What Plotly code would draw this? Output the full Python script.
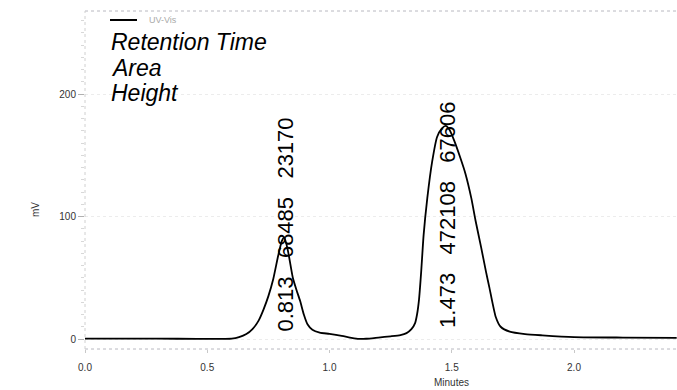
import plotly.graph_objects as go

# ---- data ----
time_min = [0.00, 0.30, 0.60, 0.63, 0.66, 0.685, 0.71, 0.73, 0.75, 0.77, 0.79, 0.805, 0.815,
            0.83, 0.85, 0.865, 0.88, 0.895, 0.91, 0.93, 0.96, 1.00, 1.05, 1.09, 1.12, 1.15,
            1.20, 1.25, 1.29, 1.315, 1.335, 1.35, 1.358, 1.366, 1.375, 1.385, 1.40, 1.42,
            1.44, 1.46, 1.475, 1.49, 1.51, 1.535, 1.556, 1.58, 1.597, 1.62, 1.64, 1.654,
            1.68, 1.70, 1.737, 1.80, 1.87, 2.00, 2.20, 2.42]
signal_mv = [0.3, 0.3, 0.3, 1.5, 4, 8, 15, 24, 35, 49, 68, 80, 83,
             72, 50, 40, 31, 20, 12, 7.5, 5.2, 4.2, 2.6, 1.0, 0.1, 0.2,
             1.2, 2.2, 3.2, 4.8, 8, 13, 20, 32, 55, 85, 115, 145,
             165, 172, 174, 171, 162, 148, 135, 115, 97, 75, 55, 42,
             18, 10, 6, 4, 3, 1.6, 1.2, 1.0]

peak_rt = ["0.813", "1.473"]
peak_area = ["68485", "472108"]
peak_height = ["23170", "67606"]
peak_label_x = [0.818, 1.483]
peak_label_y = [93.5, 101]

x_ticks = [0.0, 0.5, 1.0, 1.5, 2.0]
y_ticks = [0, 100, 200]

series_name = "UV-Vis"
legend_lines = ["Retention Time", "Area", "Height"]

# ---- geometry helpers (layout only) ----
W, H = 677, 390
L, R, T, B = 85, 0, 11, 41
PW, PH = W - L - R, H - T - B


def px(x):
    return (x - L) / PW


def py(y):
    return (H - B - y) / PH


FONT = "Liberation Sans, Arial, sans-serif"

fig = go.Figure()
fig.add_trace(go.Scatter(
    x=time_min, y=signal_mv, mode="lines",
    line=dict(color="black", width=1.8, shape="spline", smoothing=0.6),
    name=series_name, showlegend=False, hoverinfo="skip"))

annotations = []
for xv, yv, rt, ar, ht in zip(peak_label_x, peak_label_y, peak_rt, peak_area, peak_height):
    annotations.append(dict(
        x=xv, y=yv, xref="x", yref="y", text=f"{rt}   {ar}   {ht}",
        textangle=-90, showarrow=False, xanchor="center", yanchor="middle",
        font=dict(family=FONT, size=22, color="black")))

# legend-like header
annotations.append(dict(x=px(147), y=py(20), xref="paper", yref="paper", text=series_name,
                        showarrow=False, xanchor="left", yanchor="middle",
                        font=dict(family=FONT, size=9, color="#aaaaaa")))
for yy, txt in zip([42, 68, 93], legend_lines):
    annotations.append(dict(x=px(109), y=py(yy), xref="paper", yref="paper",
                            text=f"<i>{txt}</i>", showarrow=False, xanchor="left",
                            yanchor="middle", font=dict(family=FONT, size=23, color="black")))

annotations.append(dict(x=1.5, y=py(382), xref="x", yref="paper", text="Minutes",
                        showarrow=False, xanchor="center", yanchor="middle",
                        font=dict(family=FONT, size=10, color="#333333")))
annotations.append(dict(x=px(35), y=py(210), xref="paper", yref="paper", text="mV",
                        textangle=-90, showarrow=False, xanchor="center", yanchor="middle",
                        font=dict(family=FONT, size=10, color="#333333")))

shapes = [
    dict(type="line", xref="paper", yref="paper", x0=px(110), x1=px(137), y0=py(20), y1=py(20),
         line=dict(color="black", width=2)),
    dict(type="line", xref="paper", yref="paper", x0=0, x1=1, y0=1, y1=1,
         line=dict(color="#b8b8c0", width=1, dash="dot")),
    dict(type="line", xref="paper", yref="paper", x0=0, x1=1, y0=0, y1=0,
         line=dict(color="#b8b8c0", width=1, dash="dot")),
    dict(type="line", xref="paper", yref="paper", x0=0, x1=0, y0=0, y1=1,
         line=dict(color="#d0d0d0", width=1, dash="dot")),
]

fig.update_layout(
    width=W, height=H, autosize=False,
    margin=dict(l=L, r=R, t=T, b=B, pad=0),
    paper_bgcolor="white", plot_bgcolor="white",
    font=dict(family=FONT, size=10, color="#333333"),
    annotations=annotations, shapes=shapes, showlegend=False,
    xaxis=dict(range=[0, (W - L) / 244.5], tickvals=x_ticks, ticktext=[f"{v:.1f}" for v in x_ticks],
               showgrid=False, zeroline=False, showline=False,
               ticks="outside", ticklen=3, tickcolor="#c8c8c8", ticklabelstandoff=6,
               tickfont=dict(size=10, color="#333333")),
    yaxis=dict(range=[-(H - B - 339) / 1.2246, (H - B - T) / 1.2246 - (H - B - 339) / 1.2246],
               tickvals=y_ticks, showgrid=True, gridcolor="#ececec", griddash="dot",
               zeroline=False, showline=False,
               ticks="outside", ticklen=6, tickcolor="#b0b0b0",
               tickfont=dict(size=10, color="#333333"),
               minor=dict(ticks="outside", ticklen=3, tickcolor="#d8d8d8", dtick=10, showgrid=False)),
)

fig.write_html("out.html")
